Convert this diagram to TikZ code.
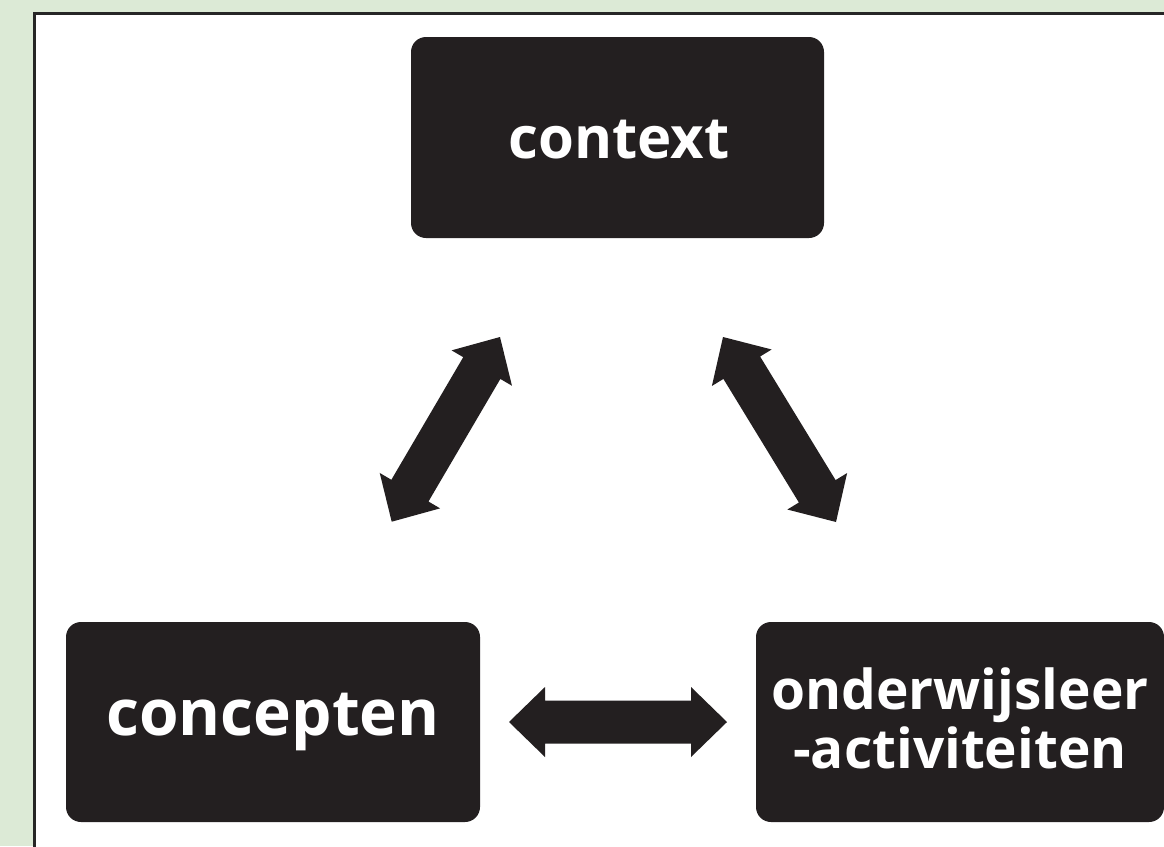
\documentclass[tikz,border=0pt]{standalone}
\usepackage{fontspec}
\setmainfont{Open Sans}
\usetikzlibrary{calc}
\definecolor{bggreen}{RGB}{220,234,214}
\definecolor{boxblack}{HTML}{231F20}
\tikzset{
  blackbox/.style={fill=boxblack, rounded corners=15pt, inner sep=0pt},
  boxtext/.style={text=white, font=\bfseries, align=center},
}
\newcommand\dblarrow[2]{%
  \coordinate (hA) at ($(#1)!36pt!(#2)$);
  \coordinate (hB) at ($(#2)!36pt!(#1)$);
  \fill[boxblack] (#1)
    -- ($(hA)!35pt!90:(#2)$) -- ($(hA)!21.5pt!90:(#2)$)
    -- ($(hB)!21.5pt!-90:(#1)$) -- ($(hB)!35pt!-90:(#1)$)
    -- (#2)
    -- ($(hB)!35pt!90:(#1)$) -- ($(hB)!21.5pt!90:(#1)$)
    -- ($(hA)!21.5pt!-90:(#2)$) -- ($(hA)!35pt!-90:(#2)$)
    -- cycle;
}
\begin{document}
\begin{tikzpicture}[x=1pt,y=-1pt]
\useasboundingbox (0,0) rectangle (1164,846);
\fill[bggreen] (0,0) rectangle (1164,846);
\begin{scope}
\clip (0,0) rectangle (1164,846);
\fill[white, draw=black!85, line width=3pt] (34.5,13) rectangle (1200,880);
\end{scope}
% boxes
\fill[blackbox] (411,37) rectangle (824,238);
\node[boxtext, font=\bfseries\fontsize{58}{66}\selectfont] (context) at (619,140) {context};
\fill[blackbox] (66,622) rectangle (480,822);
\node[boxtext, font=\bfseries\fontsize{64}{70}\selectfont] (concepten) at (273,722) {concepten};
\begin{scope}
\clip (0,0) rectangle (1164,846);
\fill[blackbox] (756,622) rectangle (1164,822);
\end{scope}
\node[boxtext, font=\bfseries\fontsize{55}{59}\selectfont] (onderwijs) at (960,718) {onderwijsleer\\-activiteiten};
% arrows
\coordinate (a1) at (500,337);
\coordinate (a2) at (391.7,521.7);
\coordinate (b1) at (723,337);
\coordinate (b2) at (836,522);
\coordinate (c1) at (509,722);
\coordinate (c2) at (727,722);
\dblarrow{a1}{a2}
\dblarrow{b1}{b2}
\dblarrow{c1}{c2}
\end{tikzpicture}
\end{document}
